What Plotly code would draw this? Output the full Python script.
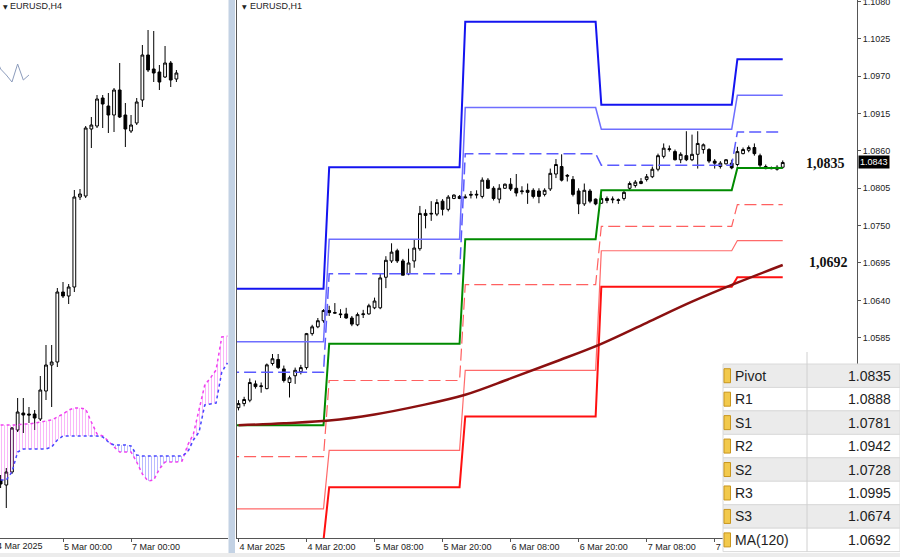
import plotly.graph_objects as go

# ---------------- H1 panel data (EURUSD, H1) ----------------
h1_open = [1.0482, 1.0488, 1.0493, 1.0517, 1.0513, 1.0510, 1.0547, 1.0553, 1.0539, 1.0519,
           1.0529, 1.0535, 1.0541, 1.0591, 1.0601, 1.0610, 1.0625, 1.0621, 1.0620, 1.0620,
           1.0614, 1.0604, 1.0619, 1.0620, 1.0629, 1.0629, 1.0674, 1.0698, 1.0713, 1.0698,
           1.0679, 1.0698, 1.0716, 1.0768, 1.0767, 1.0767, 1.0786, 1.0774, 1.0790, 1.0793,
           1.0791, 1.0796, 1.0795, 1.0793, 1.0817, 1.0805, 1.0789, 1.0805, 1.0811, 1.0805,
           1.0800, 1.0802, 1.0802, 1.0801, 1.0796, 1.0804, 1.0826, 1.0837, 1.0824, 1.0818,
           1.0801, 1.0782, 1.0801, 1.0789, 1.0783, 1.0790, 1.0788, 1.0787, 1.0790, 1.0805,
           1.0809, 1.0812, 1.0818, 1.0822, 1.0833, 1.0852, 1.0862, 1.0859, 1.0847, 1.0853,
           1.0847, 1.0855, 1.0862, 1.0862, 1.0845, 1.0837, 1.0841, 1.0842, 1.0840, 1.0856,
           1.0861, 1.0865, 1.0853, 1.0837, 1.0835, 1.0833, 1.0836]
h1_high = [1.0493, 1.0498, 1.0525, 1.0522, 1.0519, 1.0547, 1.0561, 1.0561, 1.0544, 1.0529,
           1.0541, 1.0545, 1.0592, 1.0604, 1.0614, 1.0627, 1.0632, 1.0636, 1.0627, 1.0629,
           1.0617, 1.0622, 1.0626, 1.0635, 1.0644, 1.0679, 1.0705, 1.0724, 1.0716, 1.0701,
           1.0716, 1.0730, 1.0779, 1.0774, 1.0786, 1.0789, 1.0789, 1.0795, 1.0796, 1.0795,
           1.0796, 1.0801, 1.0802, 1.0821, 1.0820, 1.0808, 1.0811, 1.0812, 1.0820, 1.0826,
           1.0808, 1.0812, 1.0805, 1.0805, 1.0805, 1.0834, 1.0848, 1.0855, 1.0826, 1.0823,
           1.0805, 1.0812, 1.0804, 1.0790, 1.0796, 1.0793, 1.0793, 1.0790, 1.0802, 1.0815,
           1.0817, 1.0820, 1.0826, 1.0837, 1.0856, 1.0871, 1.0868, 1.0862, 1.0858, 1.0889,
           1.0884, 1.0889, 1.0871, 1.0864, 1.0848, 1.0845, 1.0848, 1.0847, 1.0866, 1.0865,
           1.0868, 1.0871, 1.0856, 1.0840, 1.0837, 1.0839, 1.0846]
h1_low = [1.0478, 1.0484, 1.0490, 1.0510, 1.0504, 1.0509, 1.0544, 1.0539, 1.0519, 1.0497,
          1.0517, 1.0531, 1.0538, 1.0588, 1.0599, 1.0607, 1.0617, 1.0620, 1.0614, 1.0613,
          1.0602, 1.0602, 1.0614, 1.0619, 1.0627, 1.0627, 1.0658, 1.0695, 1.0695, 1.0677,
          1.0677, 1.0688, 1.0713, 1.0746, 1.0757, 1.0764, 1.0765, 1.0771, 1.0789, 1.0789,
          1.0790, 1.0790, 1.0790, 1.0790, 1.0804, 1.0787, 1.0783, 1.0804, 1.0801, 1.0793,
          1.0796, 1.0782, 1.0790, 1.0783, 1.0793, 1.0801, 1.0820, 1.0815, 1.0815, 1.0793,
          1.0767, 1.0779, 1.0783, 1.0780, 1.0782, 1.0783, 1.0783, 1.0782, 1.0787, 1.0801,
          1.0806, 1.0811, 1.0815, 1.0820, 1.0830, 1.0849, 1.0859, 1.0846, 1.0842, 1.0845,
          1.0845, 1.0834, 1.0856, 1.0842, 1.0834, 1.0834, 1.0840, 1.0833, 1.0837, 1.0855,
          1.0858, 1.0853, 1.0836, 1.0833, 1.0833, 1.0831, 1.0834]
h1_close = [1.0488, 1.0494, 1.0519, 1.0513, 1.0514, 1.0545, 1.0554, 1.0541, 1.0522, 1.0526,
            1.0537, 1.0541, 1.0591, 1.0601, 1.0610, 1.0625, 1.0622, 1.0622, 1.0619, 1.0614,
            1.0605, 1.0619, 1.0620, 1.0632, 1.0639, 1.0673, 1.0699, 1.0711, 1.0698, 1.0677,
            1.0695, 1.0717, 1.0768, 1.0765, 1.0768, 1.0784, 1.0774, 1.0792, 1.0795, 1.0790,
            1.0792, 1.0795, 1.0796, 1.0817, 1.0805, 1.0790, 1.0805, 1.0811, 1.0804, 1.0798,
            1.0801, 1.0799, 1.0793, 1.0793, 1.0802, 1.0827, 1.0840, 1.0817, 1.0823, 1.0796,
            1.0782, 1.0802, 1.0786, 1.0782, 1.0790, 1.0787, 1.0789, 1.0788, 1.0799, 1.0812,
            1.0814, 1.0815, 1.0822, 1.0833, 1.0853, 1.0864, 1.0863, 1.0847, 1.0855, 1.0847,
            1.0855, 1.0871, 1.0869, 1.0845, 1.0842, 1.0842, 1.0847, 1.0835, 1.0859, 1.0862,
            1.0865, 1.0856, 1.0839, 1.0834, 1.0834, 1.0836, 1.0843]
h1_bar = list(range(len(h1_open)))  # 0 = 4 Mar 08:00

h1_tick_bar = [0, 12, 24, 36, 48, 60, 72, 84]
h1_tick_text = ["4 Mar 2025", "4 Mar 20:00", "5 Mar 08:00", "5 Mar 20:00",
                "6 Mar 08:00", "6 Mar 20:00", "7 Mar 08:00", "7 Mar 20:00"]
h1_price_ticks = [1.1080, 1.1025, 1.0970, 1.0915, 1.0860, 1.0805, 1.0750, 1.0695, 1.0640, 1.0585]

# Daily pivot levels (4, 5, 6, 7, 10 March)
day_first_bar = [-8, 16, 40, 64, 88]
day_last_bar = [15, 39, 63, 87, 96]
lvl_r3 = [1.0657, 1.0836, 1.1050, 1.0928, 1.0995]
lvl_r2 = [1.0579, 1.0730, 1.0924, 1.0892, 1.0942]
lvl_r1 = [1.0534, 1.0679, 1.0856, 1.0839, 1.0888]
lvl_pp = [1.0456, 1.0576, 1.0730, 1.0802, 1.0835]
lvl_s1 = [1.0410, 1.0522, 1.0663, 1.0749, 1.0781]
lvl_s2 = [1.0333, 1.0419, 1.0537, 1.0713, 1.0728]
lvl_s3 = [1.0287, 1.0365, 1.0469, 1.0660, 1.0674]

# MA(120)
ma_bar = [0, 8, 16, 24, 32, 40, 48, 56, 64, 72, 80, 88, 96]
ma_val = [1.0456, 1.0459, 1.0463, 1.0472, 1.0485, 1.0501, 1.0525, 1.0550, 1.0576,
          1.0607, 1.0638, 1.0666, 1.0692]

# Table
table_labels = ["Pivot", "R1", "S1", "R2", "S2", "R3", "S3", "MA(120)"]
table_values = [1.0835, 1.0888, 1.0781, 1.0942, 1.0728, 1.0995, 1.0674, 1.0692]
last_price = 1.0843

# ---------------- H4 panel data (EURUSD, H4) ----------------
h4_bar = list(range(-11, 21))  # 0 = 5 Mar 00:00
h4_open = [1.0439, 1.0434, 1.0447, 1.0489, 1.0506, 1.0505, 1.0505, 1.0500, 1.0528, 1.0554,
           1.0557, 1.0627, 1.0623, 1.0632, 1.0722, 1.0723, 1.0790, 1.0793, 1.0821, 1.0813,
           1.0804, 1.0829, 1.0804, 1.0788, 1.0796, 1.0819, 1.0864, 1.0850, 1.0847, 1.0842,
           1.0856, 1.0840]
h4_high = [1.0444, 1.0451, 1.0492, 1.0521, 1.0521, 1.0512, 1.0509, 1.0543, 1.0574, 1.0574,
           1.0631, 1.0637, 1.0635, 1.0729, 1.0730, 1.0793, 1.0802, 1.0824, 1.0824, 1.0826,
           1.0831, 1.0856, 1.0816, 1.0804, 1.0821, 1.0874, 1.0889, 1.0888, 1.0854, 1.0873,
           1.0858, 1.0849]
h4_low = [1.0431, 1.0411, 1.0445, 1.0487, 1.0486, 1.0496, 1.0489, 1.0498, 1.0519, 1.0512,
          1.0552, 1.0621, 1.0615, 1.0627, 1.0719, 1.0721, 1.0771, 1.0791, 1.0791, 1.0786,
          1.0787, 1.0801, 1.0772, 1.0786, 1.0794, 1.0812, 1.0847, 1.0837, 1.0829, 1.0841,
          1.0832, 1.0837]
h4_close = [1.0435, 1.0447, 1.0491, 1.0507, 1.0504, 1.0504, 1.0501, 1.0529, 1.0554, 1.0557,
            1.0627, 1.0623, 1.0632, 1.0722, 1.0725, 1.0791, 1.0794, 1.0820, 1.0815, 1.0804,
            1.0829, 1.0802, 1.0790, 1.0794, 1.0817, 1.0864, 1.0849, 1.0846, 1.0837, 1.0856,
            1.0839, 1.0846]
h4_tick_bar = [0, 12]
h4_tick_text = ["5 Mar 00:00", "7 Mar 00:00"]

cloud_bar = list(range(-11, 30))
span_a = [1.0494, 1.0494, 1.0494, 1.0494, 1.0495, 1.0495, 1.0496, 1.0497, 1.0498, 1.0499,
          1.0502, 1.0505, 1.0509, 1.0511, 1.0511, 1.0510, 1.0497, 1.0485, 1.0483, 1.0478,
          1.0472, 1.0467, 1.0467, 1.0467, 1.0457, 1.0445, 1.0438, 1.0439, 1.0450, 1.0457,
          1.0457, 1.0457, 1.0458, 1.0474, 1.0485, 1.0509, 1.0534, 1.0541, 1.0549, 1.0582,
          1.0583]
span_b = [1.0439, 1.0439, 1.0447, 1.0467, 1.0470, 1.0470, 1.0470, 1.0470, 1.0470, 1.0472,
          1.0479, 1.0483, 1.0483, 1.0483, 1.0483, 1.0483, 1.0483, 1.0483, 1.0482, 1.0477,
          1.0474, 1.0474, 1.0474, 1.0473, 1.0464, 1.0463, 1.0463, 1.0463, 1.0463, 1.0463,
          1.0463, 1.0463, 1.0463, 1.0467, 1.0479, 1.0487, 1.0514, 1.0515, 1.0516, 1.0547,
          1.0556]
chikou_bar = list(range(-12, -5))
chikou_val = [1.0864, 1.0850, 1.0844, 1.0837, 1.0855, 1.0839, 1.0844]

# ---------------- helpers for layout decoration (pixel -> paper) ----------------
W, H = 900, 557
PLOT_BOTTOM = 538


def px(x):
    return x / W


def py(y):
    return (PLOT_BOTTOM - y) / PLOT_BOTTOM


FONT = "Liberation Sans"
fig = go.Figure()

# ---------- H4 panel ----------
MAG = "#F040F0"
BLU = "#4848FF"
segments = [(0, 19, MAG), (18, 33, BLU), (32, 41, MAG)]
for a, b, col in segments:
    fig.add_trace(go.Scatter(x=cloud_bar[a:b], y=span_b[a:b], mode="lines",
                             line=dict(width=0), xaxis="x", yaxis="y",
                             hoverinfo="skip", showlegend=False))
    fig.add_trace(go.Scatter(x=cloud_bar[a:b], y=span_a[a:b], mode="lines",
                             line=dict(width=0), fill="tonexty",
                             fillcolor="rgba(0,0,0,0)",
                             fillpattern=dict(shape="|", fgcolor=col, bgcolor="rgba(0,0,0,0)",
                                              size=3, solidity=0.25, fgopacity=0.5),
                             xaxis="x", yaxis="y", hoverinfo="skip", showlegend=False))
fig.add_trace(go.Scatter(x=cloud_bar, y=span_a, mode="lines",
                         line=dict(color=MAG, width=1.5, dash="dot"),
                         xaxis="x", yaxis="y", hoverinfo="skip", showlegend=False))
fig.add_trace(go.Scatter(x=cloud_bar, y=span_b, mode="lines",
                         line=dict(color=BLU, width=1.5, dash="dot"),
                         xaxis="x", yaxis="y", hoverinfo="skip", showlegend=False))
fig.add_trace(go.Scatter(x=chikou_bar, y=chikou_val, mode="lines",
                         line=dict(color="#8C9CBC", width=1),
                         xaxis="x", yaxis="y", hoverinfo="skip", showlegend=False))
fig.add_trace(go.Candlestick(x=h4_bar, open=h4_open, high=h4_high, low=h4_low, close=h4_close,
                             increasing=dict(fillcolor="white", line=dict(color="black", width=1)),
                             decreasing=dict(fillcolor="black", line=dict(color="black", width=1)),
                             whiskerwidth=0, xaxis="x", yaxis="y",
                             hoverinfo="skip", showlegend=False))

# ---------- H1 panel ----------


def steps(levels):
    xs, ys = [], []
    for f, l, v in zip(day_first_bar, day_last_bar, levels):
        xs += [f, l]
        ys += [v, v]
    return xs, ys


level_styles = [
    (lvl_r3, "#1414F0", 2, "solid"),
    (lvl_r2, "#6E6EFF", 1.5, "solid"),
    (lvl_r1, "#5A5AFF", 1.5, "12px,5px"),
    (lvl_s1, "#FF6060", 1.2, "12px,5px"),
    (lvl_s2, "#FF6A6A", 1.2, "solid"),
    (lvl_s3, "#FF1010", 2, "solid"),
    (lvl_pp, "#008A00", 2, "solid"),
]
for lv, col, w, dash in level_styles:
    xs, ys = steps(lv)
    fig.add_trace(go.Scatter(x=xs, y=ys, mode="lines",
                             line=dict(color=col, width=w, dash=dash),
                             xaxis="x2", yaxis="y2", hoverinfo="skip", showlegend=False))

fig.add_trace(go.Scatter(x=ma_bar, y=ma_val, mode="lines", line_shape="spline",
                         line=dict(color="#8B1010", width=2.5),
                         xaxis="x2", yaxis="y2", hoverinfo="skip", showlegend=False))

fig.add_trace(go.Candlestick(x=h1_bar, open=h1_open, high=h1_high, low=h1_low, close=h1_close,
                             increasing=dict(fillcolor="white", line=dict(color="black", width=1)),
                             decreasing=dict(fillcolor="black", line=dict(color="black", width=1)),
                             whiskerwidth=0, xaxis="x2", yaxis="y2",
                             hoverinfo="skip", showlegend=False))

axis_font = dict(family=FONT, size=9, color="#222222")

fig.update_layout(
    width=W, height=H,
    margin=dict(l=0, r=0, t=0, b=H - PLOT_BOTTOM, pad=0, autoexpand=False),
    paper_bgcolor="white", plot_bgcolor="white",
    showlegend=False, hovermode=False,
    font=dict(family=FONT, size=9, color="#222222"),
    xaxis=dict(domain=[0, px(228)], range=[-11.11, 29.1], showgrid=False, zeroline=False,
               showline=True, linecolor="#555555", linewidth=1, automargin=False,
               ticks="outside", ticklen=3, tickcolor="#555555",
               tickvals=h4_tick_bar, ticktext=h4_tick_text, ticklabelposition="outside right",
               tickfont=axis_font, rangeslider=dict(visible=False), fixedrange=True),
    yaxis=dict(domain=[0, 1], range=[1.0381, 1.0919], visible=False, fixedrange=True,
               automargin=False),
    xaxis2=dict(domain=[px(237), px(857)], range=[-0.26, 109.1], anchor="y2",
                showgrid=False, zeroline=False, automargin=False,
                showline=True, linecolor="#555555", linewidth=1,
                ticks="outside", ticklen=3, tickcolor="#555555",
                tickvals=h1_tick_bar, ticktext=h1_tick_text, ticklabelposition="outside right",
                tickfont=axis_font, rangeslider=dict(visible=False), fixedrange=True),
    yaxis2=dict(domain=[0, 1], range=[1.02901, 1.10822], anchor="x2", side="right",
                showgrid=False, zeroline=False, showline=True, mirror=True, automargin=False,
                linecolor="#555555", linewidth=1, ticklabeloverflow="allow",
                ticks="outside", ticklen=3, tickcolor="#555555",
                tickvals=h1_price_ticks, ticktext=[f"{v:.4f}" for v in h1_price_ticks],
                tickfont=axis_font, fixedrange=True),
)

shapes = []
annotations = []

# separator between the two chart windows
shapes.append(dict(type="rect", xref="paper", yref="paper", x0=px(228.5), x1=px(236),
                   y0=py(557), y1=py(0), fillcolor="#C3D2E4", line=dict(width=0), layer="above"))
shapes.append(dict(type="line", xref="paper", yref="paper", x0=px(235.5), x1=px(235.5),
                   y0=py(557), y1=py(0), line=dict(color="#FFFFFF", width=1), layer="above"))
# bottom strip
shapes.append(dict(type="rect", xref="paper", yref="paper", x0=0, x1=1,
                   y0=py(557), y1=py(553), fillcolor="#ECECEC", line=dict(width=0), layer="above"))

# Titles
annotations += [
    dict(text="▼", x=px(1), y=py(6), xref="paper", yref="paper", xanchor="left", yanchor="middle",
         showarrow=False, font=dict(family="DejaVu Sans", size=6, color="#222")),
    dict(text="EURUSD,H4", x=px(8), y=py(6), xref="paper", yref="paper", xanchor="left",
         yanchor="middle", showarrow=False, font=dict(family=FONT, size=9, color="#222")),
    dict(text="▼", x=px(240), y=py(6), xref="paper", yref="paper", xanchor="left", yanchor="middle",
         showarrow=False, font=dict(family="DejaVu Sans", size=6, color="#222")),
    dict(text="EURUSD,H1", x=px(248), y=py(6), xref="paper", yref="paper", xanchor="left",
         yanchor="middle", showarrow=False, font=dict(family=FONT, size=9, color="#222")),
    dict(text="4 Mar 2025", x=px(-5), y=py(546), xref="paper", yref="paper", xanchor="left",
         yanchor="middle", showarrow=False, font=axis_font),
]

# value labels on the chart
annotations += [
    dict(text="<b>1,0835</b>", x=103.5, y=table_values[0], xref="x2", yref="y2",
         xanchor="center", yanchor="middle", yshift=4, showarrow=False,
         font=dict(family="Liberation Serif", size=14, color="#111")),
    dict(text="<b>1,0692</b>", x=104.0, y=table_values[7], xref="x2", yref="y2",
         xanchor="center", yanchor="middle", yshift=3, showarrow=False,
         font=dict(family="Liberation Serif", size=14, color="#111")),
    dict(text=f"{last_price:.4f}", x=px(858), y=last_price, xref="paper", yref="y2",
         xanchor="left", yanchor="middle", showarrow=False, bgcolor="#000000",
         borderpad=1, font=dict(family=FONT, size=9, color="#FFFFFF")),
]

# table (bottom right)
row_top0 = 364.0
row_h = 23.45
tx0, tx1, tdiv = 723, 900, 807
for r, (lab, val) in enumerate(zip(table_labels, table_values)):
    top = row_top0 + r * row_h
    bot = top + row_h
    fill = "#EBEBEB" if r % 2 == 0 else "#FFFFFF"
    shapes.append(dict(type="rect", xref="paper", yref="paper", x0=px(tx0), x1=px(tx1),
                       y0=py(bot), y1=py(top), fillcolor=fill,
                       line=dict(color="#DADADA", width=1), layer="above"))
    shapes.append(dict(type="rect", xref="paper", yref="paper", x0=px(724), x1=px(730.5),
                       y0=py(top + row_h / 2 + 7), y1=py(top + row_h / 2 - 7),
                       fillcolor="#F2C94C", line=dict(color="#C8961E", width=1), layer="above"))
    annotations.append(dict(text=lab, x=px(733), y=py(top + row_h / 2), xref="paper", yref="paper",
                            xanchor="left", yanchor="middle", showarrow=False,
                            font=dict(family=FONT, size=14, color="#1E1E1E")))
    annotations.append(dict(text=f"{val:.4f}", x=px(893), y=py(top + row_h / 2), xref="paper",
                            yref="paper", xanchor="right", yanchor="middle", showarrow=False,
                            font=dict(family=FONT, size=14, color="#1E1E1E")))
shapes.append(dict(type="line", xref="paper", yref="paper", x0=px(tdiv), x1=px(tdiv),
                   y0=py(row_top0 + 8 * row_h), y1=py(352), line=dict(color="#D0D0D0", width=1),
                   layer="above"))

fig.update_layout(shapes=shapes, annotations=annotations)
fig.write_html("out.html", config={"displayModeBar": False},
               post_script="document.body.style.margin='0';document.body.style.overflow='hidden';")
